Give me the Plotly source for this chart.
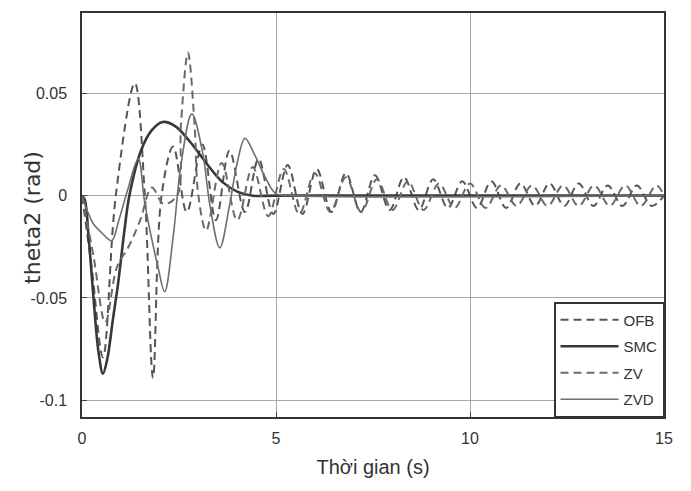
import plotly.graph_objects as go

# ---- data (time in s, theta2 in rad) ----
smc_t = [0, 0.07, 0.17, 0.28, 0.43, 0.54, 0.65, 0.8, 0.93, 1.1, 1.22, 1.52, 1.8, 2.08, 2.4, 2.8, 3.2, 3.6, 4.0, 4.4, 5.0, 15]
smc_y = [0, -0.002, -0.02, -0.046, -0.077, -0.087, -0.08, -0.06, -0.043, -0.016, 0.0, 0.022, 0.032, 0.036, 0.034, 0.026, 0.016, 0.007, 0.002, 0.0, 0.0, 0.0]

zvd_t = [0, 0.15, 0.3, 0.5, 0.76, 0.95, 1.18, 1.45, 1.62, 1.96, 2.13, 2.35, 2.55, 2.83, 3.1, 3.3, 3.55, 3.8, 4.0, 4.2, 4.45, 4.75, 5.0, 5.5, 15]
zvd_y = [0, -0.008, -0.014, -0.018, -0.022, -0.012, 0.003, 0.018, -0.004, -0.035, -0.047, -0.02, 0.015, 0.040, 0.022, -0.005, -0.0255, -0.005, 0.016, 0.028, 0.02, 0.008, 0.001, 0.0, 0.0]

ofb_t = [0, 0.25, 0.54, 0.87, 1.36, 1.62, 1.83, 2.05, 2.35, 2.7, 3.1, 3.45, 3.8, 4.2, 4.55, 4.93, 5.3, 5.68, 6.05, 6.43, 6.8, 7.18,
         7.55, 7.93, 8.3, 8.68, 9.05, 9.43, 9.8, 10.18, 10.55, 10.93, 11.3, 11.68, 12.05, 12.43, 12.8, 13.18, 13.55,
         13.93, 14.3, 14.68, 15]
ofb_y = [0, -0.035, -0.079, 0.0, 0.055, 0.0, -0.089, 0.0, 0.024, -0.008, 0.025, -0.012, 0.022, -0.008, 0.018, -0.009, 0.015,
         -0.009, 0.013, -0.008, 0.011, -0.008, 0.010, -0.007, 0.009, -0.007, 0.008, -0.006, 0.007, -0.006, 0.007,
         -0.006, 0.006, -0.005, 0.006, -0.005, 0.006, -0.005, 0.005, -0.005, 0.005, -0.005, 0.0]

zv_t = [0, 0.3, 0.6, 0.9, 1.2, 1.5, 1.8, 2.1, 2.45, 2.55, 2.73, 2.9, 3.0, 3.2, 3.6, 4.0, 4.4, 4.8, 5.2, 5.6, 6.0, 6.4, 6.8,
        7.2, 7.6, 8.0, 8.4, 8.8, 9.2, 9.6, 10.0, 10.4, 10.8, 11.2, 11.6, 12.0, 12.4, 12.8, 13.2, 13.6, 14.0, 14.4,
        14.8, 15]
zv_y = [0, -0.03, -0.062, -0.035, -0.025, -0.012, 0.004, -0.004, 0.0, 0.035, 0.070, 0.035, 0.0, -0.017, 0.016, -0.012,
        0.014, -0.010, 0.013, -0.009, 0.011, -0.008, 0.009, -0.008, 0.008, -0.007, 0.007, -0.007, 0.006, -0.006,
        0.006, -0.006, 0.005, -0.005, 0.005, -0.005, 0.005, -0.005, 0.005, -0.005, 0.005, -0.005, 0.005, 0.0]

x_ticks = [0, 5, 10, 15]
y_ticks = [-0.1, -0.05, 0, 0.05]
y_tick_text = ["-0.1", "-0.05", "0", "0.05"]

fig = go.Figure()
series = [
    ("OFB", ofb_t, ofb_y, dict(color="#555555", width=2, dash="8px,5px")),
    ("SMC", smc_t, smc_y, dict(color="#383838", width=2.6)),
    ("ZV", zv_t, zv_y, dict(color="#6a6a6a", width=2, dash="8px,5px")),
    ("ZVD", zvd_t, zvd_y, dict(color="#6e6e6e", width=1.6)),
]
for name, t, y, ln in series:
    fig.add_trace(go.Scatter(x=t, y=y, mode="lines", name=name, legendgroup=name,
                             line=dict(shape="spline", smoothing=1.0, **ln)))

# page body adds an 8px offset, so the figure is 8px smaller and margins shifted
fig.update_layout(
    width=683, height=483,
    margin=dict(l=74, r=27, t=5, b=74),
    paper_bgcolor="white", plot_bgcolor="white",
    font=dict(family="Liberation Sans, Arial, sans-serif", color="#333333"),
    showlegend=True,
    legend=dict(x=1, y=0, xanchor="right", yanchor="bottom",
                bordercolor="#333333", borderwidth=1.5, bgcolor="white",
                font=dict(size=15, color="#333333"), tracegroupgap=4,
                traceorder="grouped", itemwidth=58),
    annotations=[dict(text="theta2 (rad)", textangle=-90, xref="paper", yref="paper",
                      x=-0.084, y=0.493, xanchor="center", yanchor="middle", showarrow=False,
                      font=dict(size=22, family="DejaVu Sans", color="#333333"))],
)
fig.update_xaxes(range=[0, 15], tickvals=x_ticks, ticks="inside", ticklen=5, automargin=False,
                 tickfont=dict(size=16), showgrid=True, gridcolor="#a8a8a8", gridwidth=1,
                 zeroline=False, showline=True, linecolor="#333333", linewidth=1.5, mirror=True,
                 ticklabelstandoff=6,
                 title=dict(text="Thời gian (s)", font=dict(size=20, color="#333333"), standoff=14))
fig.update_yaxes(range=[-0.1082, 0.0893], tickvals=y_ticks, ticktext=y_tick_text, ticks="inside", ticklen=5,
                 automargin=False,
                 tickfont=dict(size=16), showgrid=True, gridcolor="#a8a8a8", gridwidth=1,
                 zeroline=False, showline=True, linecolor="#333333", linewidth=1.5, mirror=True,
                 ticklabelstandoff=10)

fig.write_html("out.html")
